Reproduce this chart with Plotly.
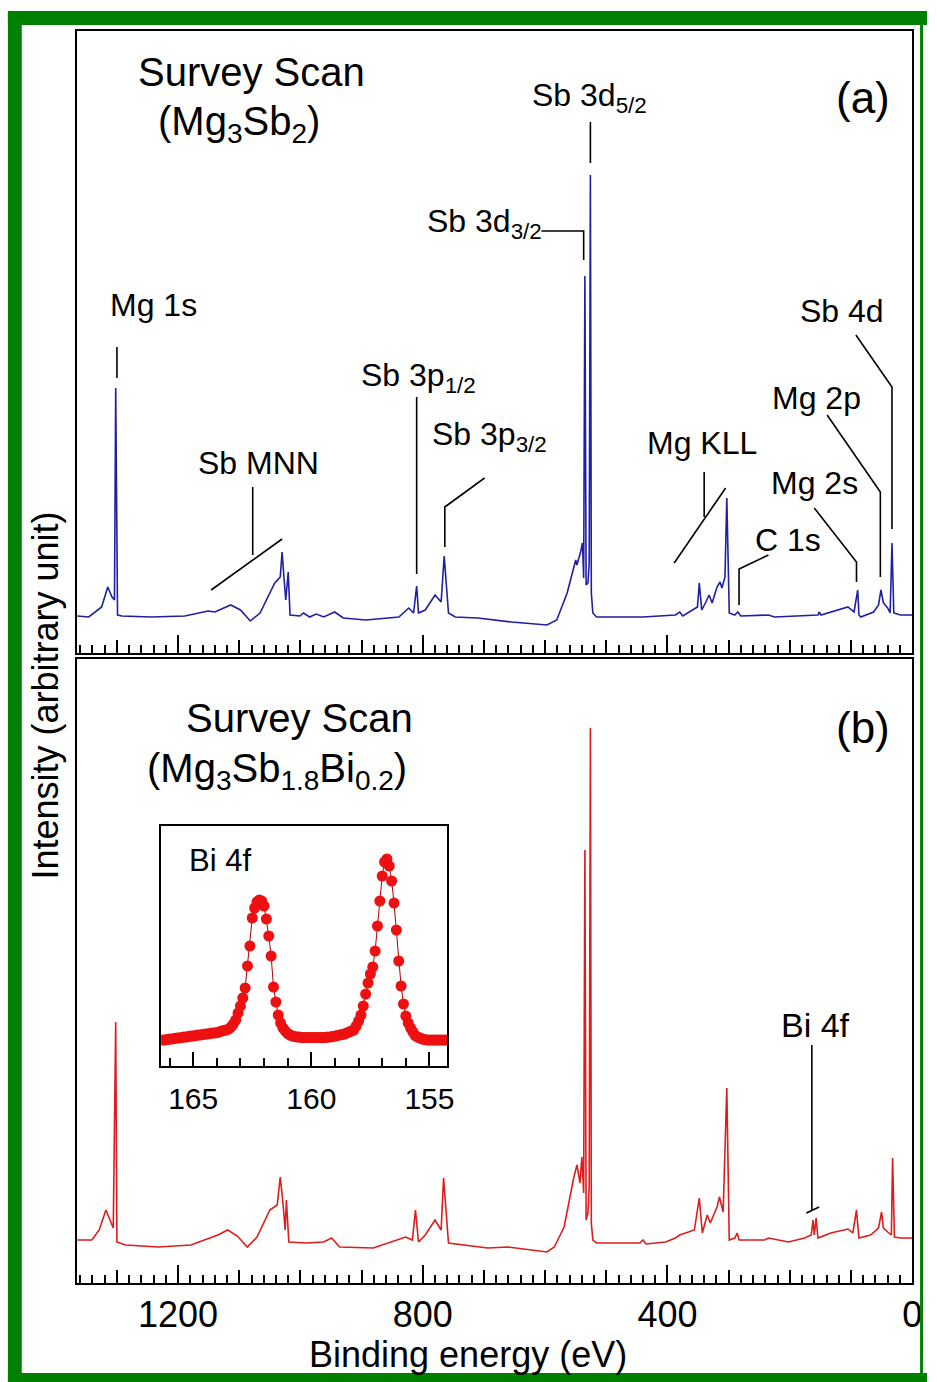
import plotly.graph_objects as go

W, H = 937, 1382
FONT = "Liberation Sans, Arial, sans-serif"

# ---------------- data ----------------
# (a) Mg3Sb2 survey scan: binding energy (eV) and intensity (arb. units)
top_energy = [1365, 1346, 1325, 1315, 1308, 1304, 1302, 1299, 1292, 1244, 1189, 1151, 1140, 1114,
              1098, 1082, 1066, 1042, 1033, 1030, 1027, 1024, 1020, 1017, 1001, 995, 985, 974,
              962, 944, 930, 893, 839, 823, 815, 810, 807, 796, 780, 770, 765, 758, 747, 710,
              655, 597, 581, 564, 550, 548, 542, 539, 537, 535, 533, 530, 528, 526, 524.5, 522,
              516, 440, 387, 380, 375, 359, 351, 348, 344, 338, 332, 327, 319, 314, 311, 306,
              303, 299, 290, 285, 280, 235, 225, 154, 152, 149, 105, 95, 89, 87, 84, 63, 55,
              51, 47, 40, 36, 33, 30, 19, 0]
top_intensity = [37, 36, 46, 66, 56, 53, 265, 38, 37, 36, 37, 42, 41, 48,
                 43, 32, 40, 70, 76, 101, 76, 53, 81, 38, 37, 40, 36, 39,
                 36, 41, 35, 33, 36, 45, 40, 67, 40, 43, 58, 51, 97, 40, 36, 35,
                 31, 28, 33, 60, 93, 88, 101, 110, 75, 377, 68, 70, 90, 478, 60, 40,
                 36, 36, 38, 41, 37, 43, 46, 70, 43, 50, 58, 50, 66, 71, 65, 76,
                 155, 40, 38, 41, 37, 38, 36, 38, 41, 38, 46, 41, 63, 38, 36, 41, 48,
                 63, 50, 45, 40, 110, 40, 38, 38]

# (b) Mg3Sb1.8Bi0.2 survey scan
bottom_energy = [1365, 1341, 1329, 1318, 1310, 1306, 1302, 1300, 1286, 1232, 1179, 1135, 1119, 1103,
                 1087, 1071, 1050, 1038, 1033, 1029, 1025, 1023, 1019, 990, 962, 949, 936, 881,
                 828, 817, 812, 807, 796, 780, 770, 766, 758, 694, 661, 597, 585, 569, 553, 548,
                 543, 540, 537, 535, 533, 530, 528, 526, 524.5, 522, 516, 445, 440, 435, 403, 387,
                 380, 364, 356, 348, 343, 335, 330, 319, 315, 309, 303, 299, 290, 286, 283, 241,
                 235, 202, 176, 165, 162, 160, 157, 154, 133, 105, 97, 91, 87, 68, 55, 50, 47,
                 40, 34, 32, 29, 19, 0]
bottom_intensity = [43, 43, 53, 73, 61, 55, 261, 41, 38, 36, 38, 48, 53, 47,
                    36, 46, 73, 78, 106, 83, 53, 83, 41, 40, 41, 45, 36, 35,
                    46, 43, 73, 41, 48, 63, 53, 105, 40, 35, 36, 31, 36, 56, 106, 118,
                    100, 126, 90, 433, 63, 70, 95, 555, 60, 43, 40, 40, 43, 39, 41, 45,
                    48, 51, 53, 85, 50, 68, 60, 76, 86, 71, 195, 43, 45, 50, 43, 43,
                    45, 41, 45, 48, 63, 48, 65, 45, 50, 54, 50, 73, 45, 48, 55, 71, 55,
                    51, 48, 125, 46, 45, 45]

# inset: Bi 4f high-resolution scan
inset_energy = [166.3, 166.2, 166.1, 166.0, 165.9, 165.8, 165.7, 165.6, 165.5, 165.4, 165.3, 165.2,
                165.1, 165.0, 164.9, 164.8, 164.7, 164.6, 164.5, 164.4, 164.3, 164.2, 164.1, 164.0,
                163.9, 163.8, 163.7, 163.6, 163.5, 163.4, 163.3, 163.2, 163.1, 163.0, 162.9, 162.8,
                162.7, 162.6, 162.5, 162.4, 162.3, 162.2, 162.1, 162.0, 161.9, 161.8, 161.7, 161.6,
                161.5, 161.4, 161.3, 161.2, 161.1, 161.0, 160.9, 160.8, 160.7, 160.6, 160.5, 160.4,
                160.3, 160.2, 160.1, 160.0, 159.9, 159.8, 159.7, 159.6, 159.5, 159.4, 159.3, 159.2,
                159.1, 159.0, 158.9, 158.8, 158.7, 158.6, 158.5, 158.4, 158.3, 158.2, 158.1, 158.0,
                157.9, 157.8, 157.7, 157.6, 157.5, 157.4, 157.3, 157.2, 157.1, 157.0, 156.9, 156.8,
                156.7, 156.6, 156.5, 156.4, 156.3, 156.2, 156.1, 156.0, 155.9, 155.8, 155.7, 155.6,
                155.5, 155.4, 155.3, 155.2, 155.1, 155.0, 154.9, 154.8, 154.7, 154.6, 154.5, 154.4,
                154.3]
inset_intensity = [26, 26, 26.5, 27, 27, 27.5, 28, 28, 28.5, 29, 29, 29.5,
                   30, 30, 30.5, 31, 31, 31.5, 32, 32, 32.5, 33, 33, 33.5,
                   34, 35, 35.5, 36, 37, 39, 42, 46, 53, 60, 68, 78,
                   100, 120, 148, 158, 164, 166, 165, 160, 147, 130, 110, 79,
                   64, 51, 43, 38, 35, 32.5, 31, 30, 29.5, 29, 29, 28.5,
                   28.5, 28.5, 28.5, 28.5, 28.5, 28.5, 28.5, 28.5, 28.5, 28.5, 29, 29,
                   29.5, 30, 30.5, 31, 31.5, 32, 33, 34, 35, 36, 40, 45,
                   51, 60, 72, 83, 92, 99, 115, 140, 165, 190, 204, 207,
                   200, 185, 163, 136, 105, 80, 62, 50, 43, 38, 34, 30.5,
                   29, 28, 27, 26.5, 26, 26, 26, 26, 26, 26, 26, 26,
                   26]

major_ticks = [1200, 800, 400, 0]
major_labels = ["1200", "800", "400", "0"]
medium_ticks = [0, 100, 200, 300, 400, 500, 600, 700, 800, 900, 1000, 1100, 1200, 1300]
inset_ticks = [165, 160, 155]
inset_labels = ["165", "160", "155"]

# ---------------- layout geometry (pixels) ----------------
L, R = 78, 922
TOP_T, TOP_B = 31, 653
BOT_T, BOT_B = 659, 1283
IN_L, IN_R, IN_T, IN_B = 163, 452, 826, 1066


def px(x):
    return x / W


def py(y):
    return 1 - y / H


XRANGE = [1365, 0]

fig = go.Figure()
fig.add_trace(go.Scatter(x=top_energy, y=top_intensity, mode="lines",
                         line=dict(color="#1f1fa3", width=1.6), xaxis="x", yaxis="y",
                         showlegend=False))
fig.add_trace(go.Scatter(x=bottom_energy, y=bottom_intensity, mode="lines",
                         line=dict(color="#dd1c1c", width=1.6), xaxis="x2", yaxis="y2",
                         showlegend=False))
fig.add_trace(go.Scatter(x=inset_energy, y=inset_intensity, mode="lines+markers",
                         line=dict(color="#b00000", width=1),
                         marker=dict(color="#ee1010", size=11, line=dict(width=0)),
                         xaxis="x3", yaxis="y3", showlegend=False))
# carriers for the long-tick overlay axes
fig.add_trace(go.Scatter(x=[None], y=[None], xaxis="x4", yaxis="y", showlegend=False,
                         hoverinfo="skip"))
fig.add_trace(go.Scatter(x=[None], y=[None], xaxis="x5", yaxis="y2", showlegend=False,
                         hoverinfo="skip"))

frame = dict(showline=True, mirror=True, linecolor="black", linewidth=2,
             showgrid=False, zeroline=False)

xdom = [px(L), px(R)]
common_x = dict(frame, domain=xdom, range=XRANGE, tickmode="array", tickvals=medium_ticks,
                ticks="inside", ticklen=13, tickwidth=2, tickcolor="black",
                showticklabels=False,
                minor=dict(dtick=20, ticks="inside", ticklen=8, tickwidth=2, tickcolor="black"))
over_x = dict(domain=xdom, range=XRANGE, tickmode="array", tickvals=major_ticks,
              ticktext=major_labels, ticks="inside", ticklen=18, tickwidth=2,
              tickcolor="black", showline=False, showgrid=False, zeroline=False)

fig.update_layout(
    width=W, height=H, margin=dict(l=0, r=0, t=0, b=0), autosize=False,
    paper_bgcolor="white", plot_bgcolor="white",
    font=dict(family=FONT, color="black"),
    xaxis=dict(common_x, anchor="y"),
    yaxis=dict(frame, domain=[py(TOP_B), py(TOP_T)], range=[0, 622], anchor="x",
               showticklabels=False, ticks=""),
    xaxis2=dict(common_x, anchor="y2"),
    yaxis2=dict(frame, domain=[py(BOT_B), py(BOT_T)], range=[0, 624], anchor="x2",
                showticklabels=False, ticks=""),
    xaxis4=dict(over_x, overlaying="x", anchor="y", showticklabels=False),
    xaxis5=dict(over_x, overlaying="x2", anchor="y2", showticklabels=True,
                tickfont=dict(family=FONT, size=36, color="black"), ticklabelstandoff=7),
    xaxis3=dict(frame, domain=[px(IN_L), px(IN_R)], range=[166.35, 154.25], anchor="y3",
                tickmode="array", tickvals=inset_ticks, ticktext=inset_labels,
                ticks="inside", ticklen=14, tickwidth=2, tickcolor="black",
                tickfont=dict(family=FONT, size=30, color="black"), ticklabelstandoff=5,
                minor=dict(dtick=1, ticks="inside", ticklen=8, tickwidth=2, tickcolor="black")),
    yaxis3=dict(frame, domain=[py(IN_B), py(IN_T)], range=[0, 240], anchor="x3",
                showticklabels=False, ticks=""),
)

# ---------------- leader lines for the peak labels (data coordinates) ----------------
top_leaders = [
    [(1300, 306), (1300, 275)],                 # Mg 1s
    [(526, 531), (526, 490)],                   # Sb 3d5/2
    [(606, 422), (537, 422), (537, 393)],       # Sb 3d3/2
    [(1078, 166), (1078, 98)],                  # Sb MNN
    [(1146, 63), (1030, 114)],                  # Sb MNN bar
    [(810, 256), (810, 79)],                    # Sb 3p1/2
    [(699, 175), (764, 146), (764, 106)],       # Sb 3p3/2
    [(340, 181), (340, 136)],                   # Mg KLL
    [(389, 90), (305, 165)],                    # Mg KLL bar
    [(235, 98), (283, 84), (283, 48)],          # C 1s
    [(160, 145), (91, 91), (91, 71)],           # Mg 2s
    [(139, 238), (52, 161), (52, 76)],          # Mg 2p
    [(92, 318), (33, 266), (33, 124)],          # Sb 4d
]
bottom_leaders = [
    [(164, 238), (164, 73)],                    # Bi 4f
    [(173, 70), (152, 76)],
]


def path_of(points):
    return "M " + " L ".join(f"{x},{y}" for x, y in points)


shapes = []
for pts in top_leaders:
    shapes.append(dict(type="path", path=path_of(pts), xref="x", yref="y",
                       line=dict(color="black", width=1.6)))
for pts in bottom_leaders:
    shapes.append(dict(type="path", path=path_of(pts), xref="x2", yref="y2",
                       line=dict(color="black", width=1.6)))

GREEN = "#008000"
for (x0, y0, x1, y1) in [(8, 11, 22, 1382), (8, 11, 937, 25), (8, 1373, 937, 1382),
                         (930, 25, 933, 1373)]:
    shapes.append(dict(type="rect", xref="paper", yref="paper", x0=px(x0), x1=px(x1),
                       y0=py(y0), y1=py(y1), fillcolor=GREEN, line=dict(width=0)))
fig.update_layout(shapes=shapes)


def label(x, y, text, size, angle=0):
    return dict(x=px(x), y=py(y), xref="paper", yref="paper", text=text, showarrow=False,
                font=dict(family=FONT, size=size, color="black"), xanchor="center",
                yanchor="middle", textangle=angle)


annotations = [
    label(254, 72, "Survey Scan", 40),
    label(242, 124, "(Mg<sub>3</sub>Sb<sub>2</sub>)", 40),
    label(872, 97, "(a)", 44),
    label(155, 305, "Mg 1s", 32),
    label(596, 98, "Sb 3d<sub>5/2</sub>", 32),
    label(490, 223, "Sb 3d<sub>3/2</sub>", 32),
    label(261, 463, "Sb MNN", 32),
    label(423, 378, "Sb 3p<sub>1/2</sub>", 32),
    label(495, 436, "Sb 3p<sub>3/2</sub>", 32),
    label(710, 443, "Mg KLL", 32),
    label(797, 540, "C 1s", 32),
    label(823, 483, "Mg 2s", 32),
    label(825, 398, "Mg 2p", 32),
    label(851, 311, "Sb 4d", 32),
    label(303, 718, "Survey Scan", 40),
    label(280, 771, "(Mg<sub>3</sub>Sb<sub>1.8</sub>Bi<sub>0.2</sub>)", 40),
    label(872, 727, "(b)", 44),
    label(824, 1025, "Bi 4f", 34),
    label(222, 860, "Bi 4f", 31),
    label(473, 1354, "Binding energy (eV)", 36),
    label(45, 696, "Intensity (arbitrary unit)", 36, angle=-90),
]
fig.update_layout(annotations=annotations)

fig.write_html("out.html")
